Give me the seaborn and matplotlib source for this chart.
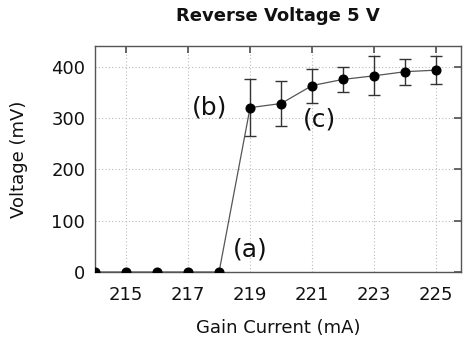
import matplotlib
matplotlib.use("Agg")
import matplotlib.pyplot as plt
import seaborn as sns
import pandas as pd

current = [214, 215, 216, 217, 218, 219, 220, 221, 222, 223, 224, 225]
voltage = [0, 0, 0, 0, 0, 320, 328, 363, 375, 382, 390, 393]
error = [0, 0, 0, 0, 0, 55, 43, 33, 25, 38, 25, 27]
xticks = [215, 217, 219, 221, 223, 225]
yticks = [0, 100, 200, 300, 400]
labels = ["(a)", "(b)", "(c)"]
label_pos = [(219.0, 43), (217.7, 320), (221.25, 297)]

sns.set_theme(style="white")
plt.rcParams['font.family'] = ['DejaVu Sans']

df = pd.DataFrame({"current": current, "voltage": voltage, "error": error})
err_df = df[df["error"] > 0]

fig = plt.figure(figsize=(4.63, 3.43), dpi=100)
ax = fig.add_axes([95/463, 1-272/343, (461-95)/463, (272-46)/343])

ax.errorbar(err_df["current"], err_df["voltage"], yerr=err_df["error"],
            fmt="none", ecolor="#333333", elinewidth=1.0, capsize=4.3, capthick=1.0, zorder=2)
sns.lineplot(data=df, x="current", y="voltage", ax=ax, color="#555555", linewidth=0.9,
             marker="o", markersize=6.5, markerfacecolor="black", markeredgecolor="black", zorder=3)

ax.set_xlim(214, 225.8)
ax.set_ylim(0, 440)
ax.set_xticks(xticks)
ax.set_yticks(yticks)
ax.grid(True, which="major", linestyle=(0, (1, 2)), color="#bbbbbb", linewidth=0.8)
ax.tick_params(direction="in", top=True, right=True, length=5, labelsize=13, pad=7,
               color="#555555", labelcolor="#111111")
ax.tick_params(axis="x", pad=10)
for s in ax.spines.values():
    s.set_color("#555555")
    s.set_linewidth(1.0)

for lab, (x, y) in zip(labels, label_pos):
    ax.text(x, y, lab, fontsize=18, ha="center", va="center", color="#111111")

ax.set_xlabel("Gain Current (mA)", fontsize=13, labelpad=11, color="#111111")
ax.set_ylabel("Voltage (mV)", fontsize=13, labelpad=17, color="#111111")
ax.set_title("Reverse Voltage 5 V", fontsize=13, fontweight="bold", pad=18, color="#111111")

fig.savefig("out.png", dpi=100)
